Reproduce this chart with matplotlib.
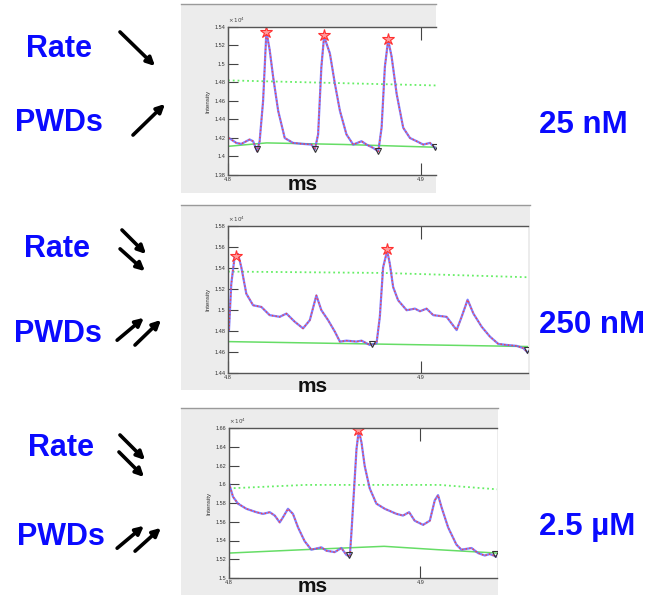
import matplotlib
matplotlib.use('Agg')
import matplotlib.pyplot as plt
from matplotlib.patches import Rectangle, FancyArrowPatch

plt.rcParams['font.family'] = ['Liberation Sans', 'DejaVu Sans']

W, H = 649, 598

# ---- data (intensity in units of 10^4, time in ms) ----
t1 = [4.8005, 4.8043, 4.8069, 4.8112, 4.8130, 4.8151, 4.8164, 4.8182, 4.8199, 4.8216,
      4.8234, 4.8260, 4.8294, 4.8337, 4.8389, 4.8433, 4.8450, 4.8467, 4.8484, 4.8498,
      4.8528, 4.8554, 4.8580, 4.8614, 4.8649, 4.8692, 4.8718, 4.8753, 4.8779, 4.8796,
      4.8813, 4.8830, 4.8848, 4.8874, 4.8908, 4.8943, 4.8978, 4.9012, 4.9047, 4.9073]
i1 = [1.420, 1.4147, 1.4136, 1.4184, 1.4165, 1.4056, 1.4165, 1.4604, 1.5353, 1.5152,
      1.4859, 1.4494, 1.420, 1.4147, 1.4136, 1.4129, 1.4074, 1.4238, 1.4969, 1.5298,
      1.5115, 1.4786, 1.4494, 1.4238, 1.4129, 1.4165, 1.4129, 1.4092, 1.4056, 1.4311,
      1.4969, 1.5261, 1.5079, 1.4677, 1.4311, 1.420, 1.4165, 1.4129, 1.4147, 1.4092]
peak_t1, peak_i1 = [4.8199, 4.8498, 4.8830], [1.5345, 1.5309, 1.5269]
trough_t1, trough_i1 = [4.8151, 4.8450, 4.8779, 4.9073], [1.408, 1.408, 1.406, 1.410]
thr_t1, thr_i1 = [4.8, 4.9078], [1.4823, 1.4768]
base_t1, base_i1 = [4.8, 4.82, 4.86, 4.9078], [1.411, 1.4147, 1.413, 1.410]

t2 = [4.8005, 4.8017, 4.8035, 4.8052, 4.8069, 4.8095, 4.8130, 4.8173, 4.8216, 4.8268,
      4.8303, 4.8346, 4.8389, 4.8424, 4.8458, 4.8484, 4.8519, 4.8554, 4.8580, 4.8614,
      4.8666, 4.8692, 4.8735, 4.8770, 4.8787, 4.8804, 4.8825, 4.8839, 4.8856, 4.8882,
      4.8926, 4.8969, 4.8995, 4.9029, 4.9064, 4.9133, 4.9159, 4.9185, 4.9211, 4.9242,
      4.9272, 4.9315, 4.9358, 4.9401, 4.9445, 4.9497, 4.9531, 4.9557]
i2 = [1.4809, 1.5249, 1.5517, 1.5533, 1.5407, 1.5155, 1.5045, 1.5029, 1.4951, 1.4935,
      1.4966, 1.4888, 1.4825, 1.4903, 1.5139, 1.4998, 1.4903, 1.4793, 1.4699, 1.4708,
      1.4699, 1.4708, 1.4667, 1.4683, 1.4935, 1.5407, 1.5564, 1.5438, 1.5218, 1.5092,
      1.4998, 1.5013, 1.4988, 1.5013, 1.4951, 1.4935, 1.4872, 1.4809, 1.4935, 1.5098,
      1.4966, 1.4840, 1.4746, 1.4677, 1.4667, 1.4658, 1.4636, 1.4589]
peak_t2, peak_i2 = [4.8043, 4.8825], [1.5517, 1.558]
trough_t2, trough_i2 = [4.8744, 4.9548], [1.4677, 1.462]
thr_t2, thr_i2 = [4.8, 4.88, 4.9555], [1.5366, 1.5353, 1.5312]
base_t2, base_i2 = [4.8, 4.9555], [1.4699, 1.4652]

t3 = [4.8000, 4.8021, 4.8047, 4.8091, 4.8143, 4.8178, 4.8213, 4.8239, 4.8265, 4.8282,
      4.8308, 4.8334, 4.8361, 4.8395, 4.8430, 4.8483, 4.8509, 4.8552, 4.8587, 4.8613,
      4.8631, 4.8639, 4.8652, 4.8666, 4.8678, 4.8692, 4.8709, 4.8735, 4.8770, 4.8814,
      4.8875, 4.8909, 4.8941, 4.8970, 4.9014, 4.9049, 4.9075, 4.9092, 4.9110, 4.9145,
      4.9188, 4.9214, 4.9267, 4.9301, 4.9336, 4.9362, 4.9397]
i3 = [1.6011, 1.5866, 1.5793, 1.5738, 1.5702, 1.5684, 1.5702, 1.5666, 1.5593, 1.5647,
      1.5738, 1.5684, 1.5538, 1.5393, 1.5302, 1.5327, 1.5291, 1.5276, 1.5320, 1.5247,
      1.5229, 1.5466, 1.5902, 1.6375, 1.6575, 1.6447, 1.6193, 1.5956, 1.5793, 1.5738,
      1.5684, 1.5666, 1.5702, 1.5611, 1.5567, 1.5611, 1.5829, 1.5884, 1.5756, 1.5538,
      1.5356, 1.5302, 1.5320, 1.5266, 1.5240, 1.5255, 1.5229]
peak_t3, peak_i3 = [4.8674], [1.6575]
trough_t3, trough_i3 = [4.8625, 4.9389], [1.5247, 1.5255]
thr_t3, thr_i3 = [4.8, 4.84, 4.91, 4.94], [1.5956, 1.5993, 1.5993, 1.5946]
base_t3, base_i3 = [4.8, 4.839, 4.881, 4.909, 4.94], [1.5266, 1.5302, 1.5338, 1.5302, 1.5266]

conc_labels = ['25 nM', '250 nM', '2.5 µM']
ylims = [(1.38, 1.54), (1.44, 1.58), (1.50, 1.66)]
xlims = [(4.8, 4.9078), (4.8, 4.9555), (4.8, 4.94)]
xticks = [4.8, 4.9]

# ---- layout in pixels ----
axes_px = [(228, 27, 436, 175), (228, 226, 528, 373), (229, 428, 497, 578)]
frame_px = [(181, 4, 436, 193), (181, 205, 530, 390), (181, 408, 498, 595)]
ms_px = [(303, 185), (313, 386), (313, 586)]
rate_px = [(59, 49), (57, 249), (61, 448)]
pwd_px = [(59, 123), (58, 334), (61, 537)]
conc_px = [(583, 125), (592, 325), (587, 527)]
arrows_px = [
    [((118, 30), (157, 68)), ((131, 137), (167, 102))],
    [((120, 228), (148, 256)), ((118, 247), (147, 273)),
     ((115, 342), (146, 316)), ((133, 347), (163, 318))],
    [((118, 433), (147, 462)), ((117, 450), (146, 479)),
     ((115, 550), (146, 524)), ((133, 553), (163, 526))],
]


def fx(x):
    return x / W


def fy(y):
    return 1 - y / H


fig = plt.figure(figsize=(W / 100, H / 100), dpi=100)

curves = [(t1, i1, peak_t1, peak_i1, trough_t1, trough_i1, thr_t1, thr_i1, base_t1, base_i1),
          (t2, i2, peak_t2, peak_i2, trough_t2, trough_i2, thr_t2, thr_i2, base_t2, base_i2),
          (t3, i3, peak_t3, peak_i3, trough_t3, trough_i3, thr_t3, thr_i3, base_t3, base_i3)]

blue = '#0a0aff'

for k in range(3):
    t, inten, pt, pi, tt, ti, tht, thi, bt, bi = curves[k]
    l, tp, r, b = frame_px[k]
    fig.add_artist(Rectangle((fx(l), fy(b)), fx(r - l), (b - tp) / H,
                             transform=fig.transFigure, facecolor='#ececec',
                             edgecolor='none', zorder=-2))
    fig.add_artist(plt.Line2D([fx(l), fx(r)], [fy(tp), fy(tp)], transform=fig.transFigure,
                              color='#9a9a9a', lw=1, zorder=-1))

    l, tp, r, b = axes_px[k]
    ax = fig.add_axes([fx(l), fy(b), fx(r - l), (b - tp) / H])
    ax.set_facecolor('white')
    ax.plot(bt, bi, color='#66dd66', lw=1.1)
    ax.plot(tht, thi, color='#66ee66', lw=1.3, ls=':')
    ax.plot(t, inten, color='#6868ff', lw=1.6, alpha=0.85)
    ax.plot(t, inten, color='#ff4040', lw=1.0, ls=':')
    ax.plot(pt, pi, ls='none', marker='*', ms=9, mfc='#ff9a9a', mec='#ff3030', mew=0.8)
    ax.plot(tt, ti, ls='none', marker='v', ms=4, mfc='none', mec='#333333', mew=0.8)

    ax.set_xlim(*xlims[k])
    ax.set_ylim(*ylims[k])
    lo, hi = ylims[k]
    yt = [round(lo + 0.02 * j, 2) for j in range(int(round((hi - lo) / 0.02)) + 1)]
    ax.set_yticks(yt)
    ax.set_yticklabels(['%g' % v for v in yt])
    ax.set_xticks(xticks)
    ax.set_xticklabels(['%g' % v for v in xticks])
    ax.tick_params(axis='y', direction='in', length=7, width=0.8, labelsize=4,
                   labelcolor='#333333', color='#444444', pad=2)
    ax.tick_params(axis='x', direction='in', length=9, width=0.8, labelsize=4,
                   labelcolor='#333333', color='#444444', pad=1.5, top=True)
    for side in ['left', 'top', 'bottom']:
        ax.spines[side].set_color('#555555')
        ax.spines[side].set_linewidth(1.0)
    ax.spines['right'].set_visible(False)
    ax.set_ylabel('Intensity', fontsize=4.5, color='#333333', labelpad=3)
    ax.text(0.0, 1.015, r'$\times\,10^4$', transform=ax.transAxes, fontsize=4,
            color='#444444', ha='left', va='bottom')

    # figure annotations
    fig.text(fx(ms_px[k][0]), fy(ms_px[k][1]), 'ms', fontsize=15, fontweight='bold',
             color='#111111', ha='center', va='center')
    fig.text(fx(rate_px[k][0]), fy(rate_px[k][1]), 'Rate', fontsize=22, fontweight='bold',
             color=blue, ha='center', va='center')
    fig.text(fx(pwd_px[k][0]), fy(pwd_px[k][1]), 'PWDs', fontsize=22, fontweight='bold',
             color=blue, ha='center', va='center')
    fig.text(fx(conc_px[k][0]), fy(conc_px[k][1]), conc_labels[k], fontsize=22.5,
             fontweight='bold', color=blue, ha='center', va='center')
    for (a, c) in arrows_px[k]:
        fig.add_artist(FancyArrowPatch((fx(a[0]), fy(a[1])), (fx(c[0]), fy(c[1])),
                                       transform=fig.transFigure, arrowstyle='-|>',
                                       mutation_scale=12, lw=2.6, color='black'))

fig.savefig('out.png', dpi=100)
